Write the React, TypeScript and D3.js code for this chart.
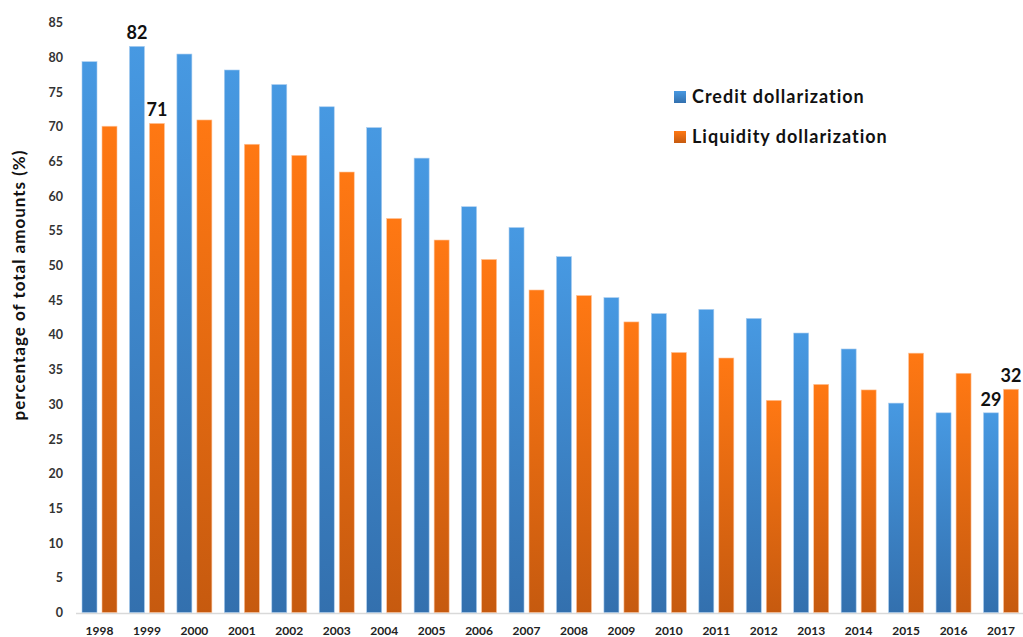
import React from "react";
import * as d3 from "d3";

const years = ["1998","1999","2000","2001","2002","2003","2004","2005","2006","2007","2008","2009","2010","2011","2012","2013","2014","2015","2016","2017"];
const creditValues = [79.4,81.6,80.5,78.2,76.1,72.9,69.9,65.5,58.5,55.5,51.3,45.4,43.1,43.7,42.4,40.3,38.0,30.2,28.8,28.8];
const liquidityValues = [70.1,70.5,71.0,67.5,65.9,63.5,56.8,53.7,50.9,46.5,45.7,41.9,37.5,36.7,30.6,32.9,32.1,37.4,34.5,32.2];
const seriesNames = ["Credit dollarization", "Liquidity dollarization"];
const yTicks = d3.range(0, 86, 5);
const annotations = [
  { year: "1999", series: 0, label: "82" },
  { year: "1999", series: 1, label: "71" },
  { year: "2017", series: 0, label: "29" },
  { year: "2017", series: 1, label: "32" },
];

const W = 1023;
const H = 637;
const FONT = "Lato, 'Open Sans', sans-serif";

export default function App() {
  const x0 = d3.scalePoint<string>().domain(years).range([99.5, 1001]);
  const x1 = d3.scaleBand<number>().domain([0, 1]).range([0, 35]).paddingInner(0.25);
  const y = d3.scaleLinear().domain([0, 85]).range([612.7, 22.8]);
  const values = [creditValues, liquidityValues];
  const gradIds = ["gBlue", "gOrange"];
  const barX = (yr: string, s: number) => (x0(yr) as number) - 17.5 + (x1(s) as number);

  return (
    <div style={{ position: "absolute", left: 0, top: 0 }}>
      <svg width={W} height={H} style={{ display: "block", background: "#fff" }} fontFamily={FONT}>
        <defs>
          <linearGradient id="gBlue" x1="0" y1="0" x2="0" y2="1">
            <stop offset="0" stopColor="#4799e2" />
            <stop offset="1" stopColor="#3370ae" />
          </linearGradient>
          <linearGradient id="gOrange" x1="0" y1="0" x2="0" y2="1">
            <stop offset="0" stopColor="#ff7813" />
            <stop offset="1" stopColor="#c65a0f" />
          </linearGradient>
        </defs>

        {/* y tick labels */}
        {yTicks.map((t) => (
          <text key={t} x={63} y={y(t)} dy="0.35em" textAnchor="end" fontSize={12.5} fontWeight={700} fill="#333">
            {t}
          </text>
        ))}

        {/* y title */}
        <text
          transform={`translate(25,${285}) rotate(-90)`}
          textAnchor="middle"
          fontSize={17}
          fontWeight={700}
          letterSpacing={1}
          fill="#111"
        >
          percentage of total amounts (%)
        </text>

        {/* bars */}
        {values.map((vals, s) =>
          years.map((yr, i) => (
            <rect
              key={`${s}-${yr}`}
              x={barX(yr, s)}
              y={y(vals[i])}
              width={x1.bandwidth()}
              height={y(0) - y(vals[i])}
              fill={`url(#${gradIds[s]})`}
              stroke={s === 0 ? "#a9cdf0" : "#ffc49a"}
              strokeWidth={0.6}
            />
          ))
        )}

        {/* baseline */}
        <line x1={76} x2={W} y1={y(0) + 0.8} y2={y(0) + 0.8} stroke="#d9d9d9" strokeWidth={1.5} />

        {/* x labels */}
        {years.map((yr) => (
          <text key={yr} x={x0(yr)} y={635} textAnchor="middle" fontSize={12} fontWeight={700} fill="#222">
            {yr}
          </text>
        ))}

        {/* annotations */}
        {annotations.map((a) => {
          const i = years.indexOf(a.year);
          const v = values[a.series][i];
          return (
            <text
              key={`${a.year}-${a.series}`}
              x={barX(a.year, a.series) + x1.bandwidth() / 2}
              y={y(v) - 7}
              textAnchor="middle"
              fontSize={18}
              fontWeight={700}
              fill="#111"
            >
              {a.label}
            </text>
          );
        })}

        {/* legend */}
        {seriesNames.map((name, s) => (
          <g key={name} transform={`translate(674,${91 + s * 40})`}>
            <rect width={12} height={12} fill={`url(#${gradIds[s]})`} />
            <text x={18} y={12} fontSize={18} fontWeight={700} letterSpacing={1} fill="#111">
              {name}
            </text>
          </g>
        ))}
      </svg>
    </div>
  );
}
